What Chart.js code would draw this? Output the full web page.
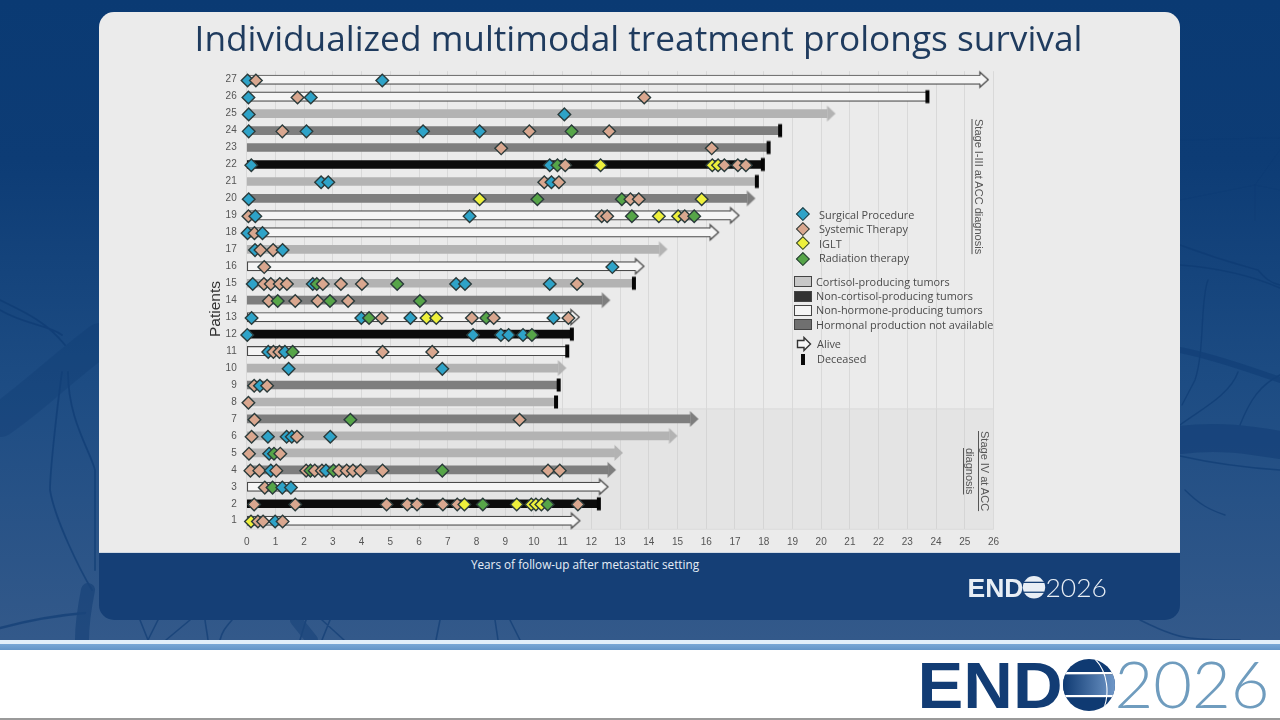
<!DOCTYPE html>
<html><head><meta charset="utf-8">
<style>
html,body{margin:0;padding:0;width:1280px;height:720px;overflow:hidden;background:#fff;font-family:"Open Sans",sans-serif}
.abs{position:absolute}
#bg{left:0;top:0;width:1280px;height:640px;background:linear-gradient(180deg,#0a3a73 0%,#0d3c75 25%,#1d4c83 60%,#33598a 100%)}
#card{left:99px;top:12px;width:1081px;height:608px;border-radius:15px;background:#153f76;overflow:hidden}
#cardTop{left:0;top:0;width:1081px;height:541px;background:#ebebeb;border-bottom:1px solid #cfd8e2;box-sizing:border-box}
#title{left:0;top:13px;width:1277px;text-align:center;font-size:35.26px;line-height:48px;color:#1f3b5e;white-space:nowrap}
#xTitle{left:385px;top:556px;width:400px;text-align:center;font-size:11.75px;line-height:16px;color:#e6eef7;white-space:nowrap}
#yTitle{left:165px;top:300px;width:100px;text-align:center;font:15.5px/18px "Liberation Sans",sans-serif;color:#333;transform:rotate(-90deg);white-space:nowrap}
canvas{position:absolute;left:0;top:0}
.lg{font-size:10.9px;line-height:14px;color:#4a4a4a;white-space:nowrap}
.dia{width:7.8px;height:7.8px;transform:rotate(45deg);border:1.3px solid #2b3b3b;box-sizing:content-box}
.sw{width:16px;height:9px;border:1.3px solid #444}
.vert{writing-mode:vertical-rl;text-decoration:underline;font:11px/15px "Liberation Sans",sans-serif;color:#555;text-align:center;white-space:nowrap}
#band1{left:0;top:640px;width:1280px;height:4px;background:#e3f0fa}
#band2{left:0;top:644px;width:1280px;height:6px;background:linear-gradient(180deg,#79a8d6,#6496c8)}
#band3{left:0;top:718px;width:1280px;height:2px;background:#9a9a9a}
</style></head>
<body>
<div id="bg" class="abs"></div>
<svg class="abs" style="left:0;top:0" width="1280" height="640" fill="none">
 <g stroke="#0d3a72" opacity=".6" stroke-linecap="round">
  <path d="M0 420 C30 400 60 370 100 340" stroke-width="34" opacity=".45"/>
  <path d="M0 300 C20 310 45 320 65 345 M0 310 C25 325 50 325 62 335 M62 372 C58 400 50 470 50 490 C55 520 80 570 92 590 M68 372 C68 420 90 450 95 470 L95 570" stroke-width="1.8"/>
  <path d="M0 628 C30 620 60 615 85 613" stroke-width="2.5"/>
  <path d="M88 590 C84 610 82 630 82 640" stroke-width="14" opacity=".8"/>
  <path d="M140 620 L148 640 M158 620 L148 640 M190 620 L166 640 M205 620 C206 628 207 632 208 640 M232 620 C225 628 222 632 220 640 M306 620 L300 640 M330 620 L322 640 M322 620 L344 640 M440 620 L436 640 M495 620 L498 640 M510 620 L520 640 M1140 620 C1180 640 1190 640 1240 640" stroke-width="1.6"/>
  <path d="M296 620 L312 640" stroke-width="12" opacity=".7"/>
  <path d="M1180 140 C1210 140 1240 138 1280 138 M1255 185 L1180 200 M1255 185 L1280 150 M1255 185 L1255 220 M1255 185 L1280 190" stroke-width="1" opacity=".4"/>
  <path d="M1180 245 C1220 260 1240 265 1258 270 C1265 278 1270 283 1280 285 M1180 265 C1220 268 1250 275 1280 288" stroke-width="1.5"/>
  <path d="M1208 280 C1200 300 1205 350 1195 380 L1182 405 M1238 372 C1230 395 1200 410 1180 425 M1280 375 C1260 385 1250 400 1240 425" stroke-width="1.4"/>
  <path d="M1180 350 C1220 358 1250 370 1280 380" stroke-width="6" opacity=".8"/>
  <path d="M1180 440 C1220 435 1250 440 1280 445" stroke-width="28" opacity=".75"/>
  <path d="M1180 456 C1220 465 1250 468 1280 470 M1185 490 C1200 505 1210 510 1225 515" stroke-width="1.4"/>
 </g>
</svg>
<div id="card" class="abs"><div id="cardTop" class="abs"></div></div>
<div id="title" class="abs">Individualized multimodal treatment prolongs survival</div>
<div id="xTitle" class="abs">Years of follow-up after metastatic setting</div>

<canvas id="c" width="1280" height="720"></canvas>
<div id="yTitle" class="abs">Patients</div>

<!-- treatment legend -->
<div class="abs dia" style="left:797.5px;top:209px;background:#2ea3c8"></div><div class="abs lg" style="left:819px;top:208px">Surgical Procedure</div>
<div class="abs dia" style="left:797.5px;top:223.8px;background:#d9a78f"></div><div class="abs lg" style="left:819px;top:222px">Systemic Therapy</div>
<div class="abs dia" style="left:797.5px;top:238.1px;background:#eef03c"></div><div class="abs lg" style="left:819px;top:236.5px">IGLT</div>
<div class="abs dia" style="left:797.5px;top:254.1px;background:#56a548"></div><div class="abs lg" style="left:819px;top:251px">Radiation therapy</div>
<!-- production legend -->
<div class="abs sw" style="left:794px;top:276px;background:#c8c8c8"></div><div class="abs lg" style="left:816px;top:274.5px">Cortisol-producing tumors</div>
<div class="abs sw" style="left:794px;top:290.5px;background:#333"></div><div class="abs lg" style="left:816px;top:289px">Non-cortisol-producing tumors</div>
<div class="abs sw" style="left:794px;top:305px;background:#f4f4f4"></div><div class="abs lg" style="left:816px;top:303px">Non-hormone-producing tumors</div>
<div class="abs sw" style="left:794px;top:319px;background:#707070"></div><div class="abs lg" style="left:816px;top:317.5px">Hormonal production not available</div>
<svg class="abs" style="left:796px;top:336px" width="17" height="16"><path d="M1.5 4.5H8V1.5L14.5 8L8 14.5V11.5H1.5Z" fill="#f6f6f6" stroke="#333" stroke-width="1.4"/></svg>
<div class="abs lg" style="left:817px;top:337px">Alive</div>
<div class="abs" style="left:801px;top:354px;width:4px;height:11px;background:#0a0a0a"></div>
<div class="abs lg" style="left:817px;top:351.5px">Deceased</div>
<div class="abs vert" style="left:970.5px;top:118px;height:137px">Stage I-III at ACC diagnosis</div>
<div class="abs vert" style="left:962px;top:431px;height:80px;width:30px">Stage IV at ACC<br>diagnosis</div>

<div id="band1" class="abs"></div><div id="band2" class="abs"></div><div id="band3" class="abs"></div>

<svg class="abs" style="left:0;top:0" width="1280" height="720">
 <defs>
  <linearGradient id="gl" x1="0" x2="1"><stop offset="0" stop-color="#0f3a72"/><stop offset="1" stop-color="#6f97c8"/></linearGradient>
  <clipPath id="gc"><circle cx="1089" cy="685" r="26"/></clipPath>
 </defs>
 <text x="917.5" y="708.3" textLength="145" lengthAdjust="spacingAndGlyphs" font-family="Liberation Sans" font-weight="700" font-size="65" fill="#123c74">END</text>
 <g clip-path="url(#gc)">
   <rect x="1063" y="659" width="52" height="52" fill="#0f3a72"/>
   <rect x="1063" y="675" width="52" height="20" fill="url(#gl)"/>
   <rect x="1062" y="672" width="54" height="2.4" fill="#fff"/>
   <rect x="1062" y="695" width="54" height="2.2" fill="#fff"/>
   <path d="M1095 659 C1108 672 1110 695 1103 710" stroke="#fff" stroke-width="1.1" fill="none"/>
 </g>
 <text x="1114.5" y="708.3" textLength="155" lengthAdjust="spacingAndGlyphs" font-family="Lato" font-weight="300" font-size="66" fill="#6f9cbe">2026</text>
 <text x="967.5" y="597.3" textLength="56" lengthAdjust="spacingAndGlyphs" font-family="Liberation Sans" font-weight="700" font-size="26" fill="#e8eef5">END</text>
 <g transform="translate(1034 587.3) scale(.43) translate(-1089 -685)">
  <circle cx="1089" cy="685" r="26" fill="#e8eef5"/>
  <rect x="1062" y="672" width="54" height="3" fill="#153f76"/>
  <rect x="1062" y="695" width="54" height="3" fill="#153f76"/>
 </g>
 <text x="1045.5" y="597.3" textLength="61.5" lengthAdjust="spacingAndGlyphs" font-family="Lato" font-weight="300" font-size="26" fill="#e8eef5">2026</text>
</svg>

<script src="https://cdn.jsdelivr.net/npm/chart.js@4"></script>
<script>
// ---- data ----
const patients = ['27','26','25','24','23','22','21','20','19','18','17','16','15','14','13','12','11','10','9','8','7','6','5','4','3','2','1'];
const xTicks = [0,1,2,3,4,5,6,7,8,9,10,11,12,13,14,15,16,17,18,19,20,21,22,23,24,25,26];
// follow-up end per patient (same order as patients)
const followUp = [25.84,23.7,20.5,18.57,18.17,17.97,17.76,17.71,17.16,16.45,14.65,13.85,13.48,12.66,11.6,11.32,11.16,11.13,10.86,10.77,15.73,15.0,13.1,12.86,12.6,12.26,11.62];
const outcome  = ['A','D','A','D','D','D','D','A','A','A','A','A','D','A','A','D','D','A','D','D','A','A','A','A','A','D','A'];
// C cortisol, N non-cortisol, H non-hormone, U not available
const production = ['H','H','C','U','U','N','C','U','H','H','C','H','C','U','H','N','H','C','U','C','U','C','C','U','H','N','H'];
// [patient, years]
const surgical = [[27,.03],[27,4.72],[26,.06],[26,2.23],[25,.07],[25,11.06],[24,.07],[24,2.08],[24,6.14],[24,8.11],[22,.16],[22,10.55],[21,2.59],[21,2.84],[21,10.61],[20,.07],[19,.3],[19,7.76],[18,.03],[18,.55],[17,.29],[17,1.25],[16,12.73],[15,.21],[15,2.3],[15,7.29],[15,7.6],[15,10.55],[13,.17],[13,3.99],[13,5.7],[13,10.68],[12,.02],[12,7.88],[12,8.85],[12,9.12],[12,9.62],[11,.75],[11,1.33],[10,1.46],[10,6.81],[9,.46],[6,.74],[6,1.39],[6,1.57],[6,2.91],[5,.78],[4,.84],[4,2.76],[3,1.24],[3,1.54],[1,.99]];
const systemic = [[27,.32],[26,1.77],[26,13.84],[24,1.24],[24,9.84],[24,12.62],[23,8.86],[23,16.19],[22,11.09],[22,16.63],[22,17.1],[22,17.38],[21,10.36],[21,10.87],[20,13.36],[20,13.65],[19,.06],[19,12.36],[19,12.55],[19,15.25],[18,.27],[17,.48],[17,.92],[16,.61],[15,.6],[15,.84],[15,1.15],[15,1.4],[15,2.65],[15,3.28],[15,4.01],[15,11.5],[14,.77],[14,1.69],[14,2.47],[14,3.53],[13,4.7],[13,7.84],[13,8.6],[13,11.2],[11,.93],[11,1.14],[11,4.73],[11,6.46],[9,.26],[9,.71],[8,.06],[7,.27],[7,9.5],[6,.17],[6,1.75],[5,.08],[5,1.17],[4,.13],[4,.44],[4,1.03],[4,2.07],[4,2.37],[4,2.62],[4,3.21],[4,3.48],[4,3.7],[4,3.96],[4,4.73],[4,10.49],[4,10.9],[3,.63],[2,.26],[2,1.69],[2,4.87],[2,5.59],[2,5.93],[2,6.83],[2,7.33],[2,11.53],[1,.39],[1,.57],[1,1.25]];
const iglt = [[22,12.32],[22,16.21],[22,16.41],[20,8.11],[20,15.84],[19,14.35],[19,15.02],[13,6.26],[13,6.6],[2,7.58],[2,9.4],[2,9.91],[2,10.07],[2,10.26],[1,.15]];
const radiation = [[24,11.31],[22,10.82],[20,10.12],[20,13.06],[19,13.41],[19,15.58],[15,2.44],[15,5.24],[14,1.08],[14,2.9],[14,6.03],[13,4.26],[13,8.34],[12,9.93],[11,1.6],[7,3.61],[5,.95],[4,2.22],[4,3.02],[4,6.81],[3,.9],[2,8.22],[2,10.48]];

// ---- styling ----
const colors = {surgical:'#2ea3c8',systemic:'#d9a78f',iglt:'#eef03c',radiation:'#56a548'};
const barFill = {C:'#b3b3b3',N:'#0c0c0c',H:'#f5f5f5',U:'#7e7e7e'};
const barNames = {C:'Cortisol-producing tumors',N:'Non-cortisol-producing tumors',H:'Non-hormone-producing tumors',U:'Hormonal production not available'};
const headYears = 0.29;

function mk(w,h,fn){const c=document.createElement('canvas');c.width=w;c.height=h;fn(c.getContext('2d'),w/2,h/2);return c;}
// arrow head: its tip sits on the canvas centre
function head(fill,stroke){
  return mk(40,24,(g,cx,cy)=>{
    g.beginPath();
    if(stroke){
      g.moveTo(cx-9,cy-4.3);g.lineTo(cx-9,cy-7.5);g.lineTo(cx-.7,cy);g.lineTo(cx-9,cy+7.5);g.lineTo(cx-9,cy+4.3);
      g.fillStyle=fill;g.fill();g.strokeStyle=stroke;g.lineWidth=1.3;g.stroke();
    }else{
      g.moveTo(cx-8.5,cy-8);g.lineTo(cx,cy);g.lineTo(cx-8.5,cy+8);g.closePath();g.fillStyle=fill;g.fill();
    }
  });
}
const heads = {C:head(barFill.C),N:head(barFill.N),H:head('#f5f5f5','#4a4a4a'),U:head(barFill.U)};
const deathMark = mk(10,16,(g,cx,cy)=>{g.fillStyle='#050505';g.fillRect(cx-2,cy-6.5,4,13);});

const barDatasets = ['C','U','H','N'].map(k=>({
  type:'bar',label:barNames[k],grouped:false,
  data:patients.map((p,i)=> production[i]===k ? [0, outcome[i]==='A' ? followUp[i]-headYears : followUp[i]] : null),
  backgroundColor:barFill[k],
  borderColor:k==='H'?'#4a4a4a':barFill[k],
  borderWidth:k==='H'?(c=>({top:1.2,bottom:1.2,left:1.2,right:outcome[c.dataIndex]==='A'?0:1.2})):0,
  borderSkipped:false,
  barThickness:k==='H'?9.4:8,
  order:3
}));

const endPoints = [];
patients.forEach((p,i)=>endPoints.push({x:followUp[i],y:p,o:outcome[i],k:production[i]}));

const all = [];
[[surgical,'surgical'],[systemic,'systemic'],[iglt,'iglt'],[radiation,'radiation']].forEach(([a,k])=>a.forEach(([p,x])=>all.push({x,y:String(p),kind:k})));
all.sort((a,b)=>a.x-b.x);

const stageIV = {id:'stageIV',beforeDatasetsDraw(ch){
  const {y}=ch.scales,g=ch.ctx;
  const top=y.getPixelForTick(patients.indexOf('7'))-10,bot=ch.chartArea.bottom;
  g.save();g.fillStyle='rgba(200,200,200,.2)';g.strokeStyle='#dadada';g.lineWidth=1;
  g.fillRect(ch.chartArea.left,top,ch.chartArea.width,bot-top);g.strokeRect(ch.chartArea.left,top,ch.chartArea.width,bot-top);g.restore();
}};
// the reference's diamonds sit a little below the bar centres
const nudge = {id:'nudge',
  beforeDatasetDraw(ch,a){ if(ch.data.datasets[a.index].label==='Treatments'){ch.ctx.save();ch.ctx.translate(0,.8);} },
  afterDatasetDraw(ch,a){ if(ch.data.datasets[a.index].label==='Treatments'){ch.ctx.restore();} }
};

new Chart(document.getElementById('c'),{
  type:'bar',
  plugins:[stageIV,nudge],
  data:{labels:patients,datasets:[
    ...barDatasets,
    {type:'scatter',label:'Follow-up end',order:2,clip:false,data:endPoints,
      pointStyle:c=>c.raw.o==='A'?heads[c.raw.k]:deathMark,pointRadius:8},
    {type:'scatter',label:'Treatments',order:1,clip:false,data:all,
      pointStyle:'rectRot',pointRadius:6.3,pointBorderWidth:1.4,pointBorderColor:'#2b3b3b',
      pointBackgroundColor:c=>colors[c.raw.kind]}
  ]},
  options:{
    indexAxis:'y',responsive:false,animation:false,devicePixelRatio:1,
    layout:{padding:{left:200,right:286.5,top:71.2,bottom:160.8}},
    plugins:{legend:{display:false},tooltip:{enabled:false},title:{display:false}},
    scales:{
      x:{type:'linear',min:0,max:26,
        afterBuildTicks:s=>{s.ticks=xTicks.map(v=>({value:v}));},
        afterFit:s=>{s.height=30;s.paddingLeft=0;s.paddingRight=0;},
        grid:{color:'#d9d9d9',lineWidth:1,drawTicks:false},border:{display:false},
        ticks:{color:'#555',font:{family:'Liberation Sans',size:10},padding:7,maxRotation:0,autoSkip:false}},
      y:{type:'category',
        afterFit:s=>{s.width=46.7;s.paddingTop=0;s.paddingBottom=0;},
        grid:{display:false,drawTicks:false},border:{display:false},
        ticks:{color:'#555',font:{family:'Liberation Sans',size:10},padding:10,autoSkip:false}}
    }
  }
});
</script>
</body></html>
